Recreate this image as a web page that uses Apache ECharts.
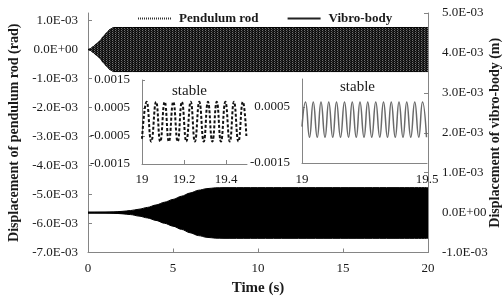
<!DOCTYPE html>
<html lang="en">
<head>
<meta charset="UTF-8">
<title>Displacement</title>
<script src="https://cdn.jsdelivr.net/npm/echarts@6/dist/echarts.min.js"></script>
<style>
  html, body { margin: 0; padding: 0; background: #fff; }
  #chart { width: 503px; height: 297px; }
</style>
</head>
<body>
<div id="chart"></div>
<script>
// tick labels
var xTicks = [0, 5, 10, 15, 20];
var leftTicks = [-7e-3, -6e-3, -5e-3, -4e-3, -3e-3, -2e-3, -1e-3, 0, 1e-3];
var rightTicks = [-1e-3, 0, 1e-3, 2e-3, 3e-3, 4e-3, 5e-3];
var inset1XTicks = [19, 19.2, 19.4];
var inset1YTicks = [-0.0015, -0.0005, 0.0005, 0.0015];
var inset2XTicks = [19, 19.5];
var inset2YTicks = [-0.0015, 0.0005];

// envelope of the pendulum rod response (rad)
var pendT   = [0, 0.1, 0.3, 0.5, 0.7, 0.9, 1.1, 1.3, 1.5, 20];
var pendUp  = [0, 0.00002, 0.0001, 0.0002, 0.0003, 0.00045, 0.00058, 0.0007, 0.00076, 0.00076];
var pendLow = [0, -0.00002, -0.0001, -0.0002, -0.0003, -0.00045, -0.00058, -0.0007, -0.00076, -0.00076];

// envelope of the vibro-body response (m)
var vibT   = [0, 1, 1.5, 2, 2.5, 3, 3.5, 4, 4.5, 5, 5.5, 6, 6.5, 7, 7.5, 8, 20];
var vibUp  = [0, 0.000005, 0.000015, 0.00003, 0.00005, 0.000085, 0.00013, 0.00019, 0.00026, 0.00033, 0.00041, 0.00049, 0.00056, 0.0006, 0.00062, 0.000625, 0.000625];
var vibLow = [0, -0.000005, -0.000015, -0.00003, -0.00005, -0.000088, -0.000134, -0.000196, -0.000268, -0.00034, -0.00042, -0.000505, -0.000577, -0.00062, -0.00064, -0.000645, -0.000645];

// inset 1: pendulum rod, 19–19.5 s (peaks and troughs)
var ins1T = [19.0, 19.022, 19.044, 19.067, 19.087, 19.108, 19.128, 19.149, 19.17, 19.19, 19.211, 19.232, 19.252, 19.273, 19.294, 19.314, 19.335, 19.356, 19.376, 19.397, 19.418, 19.438, 19.459, 19.48, 19.497];
var ins1Y = [-0.0006, 0.00072, -0.0007, 0.00072, -0.0007, 0.00072, -0.0007, 0.00072, -0.0007, 0.00072, -0.0007, 0.00072, -0.0007, 0.00072, -0.0007, 0.00072, -0.0007, 0.00072, -0.0007, 0.00072, -0.0007, 0.00072, -0.0007, 0.00072, -0.0005];

// inset 2: vibro-body, 19–19.5 s (peaks and troughs)
var ins2T = [19.0, 19.014, 19.030, 19.045, 19.061, 19.076, 19.092, 19.107, 19.123, 19.138, 19.154, 19.170, 19.186, 19.201, 19.217, 19.232, 19.248, 19.263, 19.279, 19.295, 19.311, 19.326, 19.342, 19.357, 19.373, 19.388, 19.404, 19.419, 19.435, 19.451, 19.467, 19.482, 19.498];
var ins2Y = [-0.0002, 0.00068, -0.00058, 0.00068, -0.00058, 0.00068, -0.00058, 0.00068, -0.00058, 0.00068, -0.00058, 0.00068, -0.00058, 0.00068, -0.00058, 0.00068, -0.00058, 0.00068, -0.00058, 0.00068, -0.00058, 0.00068, -0.00058, 0.00068, -0.00058, 0.00068, -0.00058, 0.00068, -0.00058, 0.00068, -0.00058, 0.00068, -0.00058];

function zip(a, b) {
    return a.map(function (v, i) { return [v, b[i]]; });
}

function sci(v) {
    if (Math.abs(v) < 1e-12) return '0.0E+00';
    var e = Math.floor(Math.log10(Math.abs(v)) + 1e-9);
    var m = v / Math.pow(10, e);
    var ae = Math.abs(e);
    return m.toFixed(1) + 'E' + (e < 0 ? '-' : '+') + (ae < 10 ? '0' : '') + ae;
}

// dark dotted texture for the dense pendulum trace
var pc = document.createElement('canvas');
pc.width = 3; pc.height = 2;
var pctx = pc.getContext('2d');
pctx.fillStyle = '#111'; pctx.fillRect(0, 0, 3, 2);
pctx.fillStyle = '#727272'; pctx.fillRect(1, 0, 1, 1);
pctx.fillStyle = '#3a3a3a'; pctx.fillRect(2, 1, 1, 1);
var pendPattern = { image: pc, repeat: 'repeat' };

var FONT = 'Liberation Serif';
var AX = '#858585';
var TXT = '#1a1a1a';

var chart = echarts.init(document.getElementById('chart'));

function axisBase(extra) {
    var o = {
        type: 'value',
        splitLine: { show: false },
        axisLine: { show: true, onZero: false, lineStyle: { color: AX, width: 1 } },
        axisTick: { show: true, inside: true, length: 4, lineStyle: { color: AX } },
        axisLabel: { fontFamily: FONT, fontSize: 13, color: TXT }
    };
    for (var k in extra) o[k] = extra[k];
    return o;
}

// envelope line filled towards (just past) the zero line, so upper and lower halves overlap
function envelope(name, yIdx, t, v, fill, origin) {
    return {
        name: name, type: 'line', xAxisIndex: 0, yAxisIndex: yIdx, data: zip(t, v),
        symbol: 'none', smooth: 0.3, smoothMonotone: 'x',
        lineStyle: { color: '#000', width: 1 },
        areaStyle: { color: fill, opacity: 1, origin: origin }
    };
}

var option = {
    animation: false,
    backgroundColor: '#fff',
    textStyle: { fontFamily: FONT },
    legend: {
        left: 132, top: 7,
        data: ['Pendulum rod', 'Vibro-body'],
        itemWidth: 33, itemHeight: 8, itemGap: 28,
        itemStyle: { opacity: 0 },
        textStyle: { fontFamily: FONT, fontSize: 13, fontWeight: 'bold', color: TXT, padding: [0, 0, 0, 3] }
    },
    grid: [
        { left: 88, right: 75, top: 13, bottom: 44.5, containLabel: false, outerBoundsMode: 'none' },
        { left: 142, width: 105, top: 80, height: 84, containLabel: false, outerBoundsMode: 'none' },
        { left: 302, width: 125, top: 79, height: 84, containLabel: false, outerBoundsMode: 'none' }
    ],
    graphic: [
        { type: 'text', left: 172, top: 84, style: { text: 'stable', font: '15px "Liberation Serif"', fill: TXT } },
        { type: 'text', left: 340, top: 80, style: { text: 'stable', font: '15px "Liberation Serif"', fill: TXT } }
    ],
    xAxis: [
        axisBase({
            gridIndex: 0, min: 0, max: 20, interval: 5,
            name: 'Time (s)', nameLocation: 'middle', nameGap: 27,
            nameTextStyle: { fontFamily: FONT, fontSize: 15, fontWeight: 'bold', color: TXT },
            axisLabel: { fontFamily: FONT, fontSize: 13, color: TXT, margin: 10, customValues: xTicks },
            axisTick: { show: true, inside: true, length: 4, lineStyle: { color: AX }, customValues: xTicks }
        }),
        axisBase({
            gridIndex: 1, min: 19, max: 19.5, interval: 0.2,
            axisLabel: { fontFamily: FONT, fontSize: 13, color: TXT, margin: 9, customValues: inset1XTicks },
            axisTick: { show: true, inside: true, length: 4, lineStyle: { color: AX }, customValues: inset1XTicks }
        }),
        axisBase({
            gridIndex: 2, min: 19, max: 19.5, interval: 0.5,
            axisLabel: { fontFamily: FONT, fontSize: 13, color: TXT, margin: 10, customValues: inset2XTicks },
            axisTick: { show: false }
        })
    ],
    yAxis: [
        axisBase({
            gridIndex: 0, position: 'left', min: -0.007, max: 0.00126, interval: 0.001,
            name: 'Displacement of pendulum rod (rad)', nameLocation: 'middle', nameGap: 65,
            nameTextStyle: { fontFamily: FONT, fontSize: 14, fontWeight: 'bold', color: TXT },
            axisLabel: { fontFamily: FONT, fontSize: 13, color: TXT, margin: 10, formatter: sci, customValues: leftTicks },
            axisTick: { show: true, inside: true, length: 4, lineStyle: { color: AX }, customValues: leftTicks }
        }),
        axisBase({
            gridIndex: 0, position: 'right', min: -0.001, max: 0.005, interval: 0.001,
            name: 'Displacement of vibro-body (m)', nameLocation: 'middle', nameGap: 60, nameRotate: 90,
            nameMoveOverlap: false,
            nameTextStyle: { fontFamily: FONT, fontSize: 14, fontWeight: 'bold', color: TXT },
            axisLabel: { fontFamily: FONT, fontSize: 13, color: TXT, margin: 14, formatter: sci, customValues: rightTicks },
            axisTick: { show: true, inside: true, length: 4, lineStyle: { color: AX }, customValues: rightTicks }
        }),
        axisBase({
            gridIndex: 1, min: -0.0015, max: 0.0015, interval: 0.001,
            axisLabel: { fontFamily: FONT, fontSize: 13, color: TXT, margin: 12,
                formatter: function (v) { return v.toFixed(4); }, customValues: inset1YTicks },
            axisTick: { show: true, inside: true, length: 3, lineStyle: { color: AX }, customValues: inset1YTicks }
        }),
        axisBase({
            gridIndex: 2, min: -0.0015, max: 0.0015, interval: 0.002,
            axisLabel: { fontFamily: FONT, fontSize: 13, color: TXT, margin: 12,
                formatter: function (v) { return v.toFixed(4); }, customValues: inset2YTicks },
            axisTick: { show: true, inside: true, length: 3, lineStyle: { color: AX }, customValues: inset2YTicks }
        })
    ],
    series: [
        // legend entries
        { name: 'Pendulum rod', type: 'line', data: [], symbol: 'none',
          lineStyle: { color: '#333', width: 1, type: [1, 1] }, itemStyle: { color: '#333' } },
        { name: 'Vibro-body', type: 'line', data: [], symbol: 'none',
          lineStyle: { color: '#222', width: 1 }, itemStyle: { color: '#222' } },
        // main chart bands
        envelope('pend-up', 0, pendT, pendUp, pendPattern, -0.00003),
        envelope('pend-low', 0, pendT, pendLow, pendPattern, 0.00003),
        envelope('vib-up', 1, vibT, vibUp, '#000', -0.00003),
        envelope('vib-low', 1, vibT, vibLow, '#000', 0.00003),
        // insets
        { name: 'inset-pend', type: 'line', xAxisIndex: 1, yAxisIndex: 2, data: zip(ins1T, ins1Y),
          symbol: 'none', smooth: 0.5,
          lineStyle: { color: '#111', width: 2, type: [3, 2] } },
        { name: 'inset-vib', type: 'line', xAxisIndex: 2, yAxisIndex: 3, data: zip(ins2T, ins2Y),
          symbol: 'none', smooth: 0.5,
          lineStyle: { color: '#6a6a6a', width: 1.5 } }
    ]
};

chart.setOption(option);
</script>
</body>
</html>
